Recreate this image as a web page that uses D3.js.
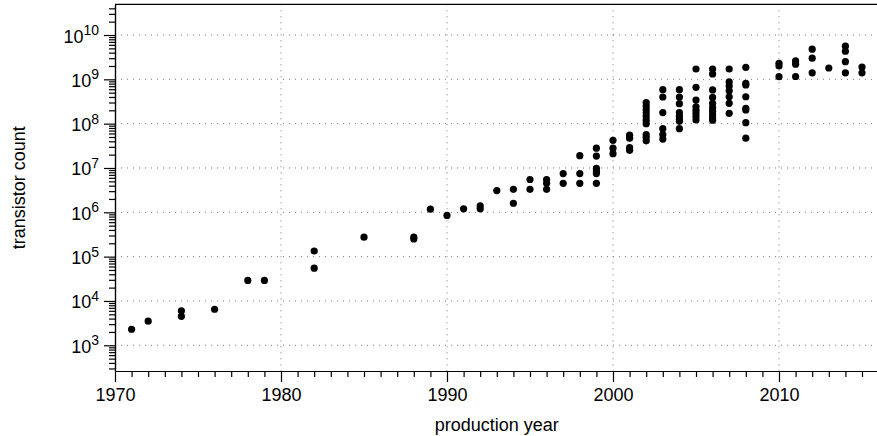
<!DOCTYPE html>
<html>
<head>
<meta charset="utf-8">
<script src="https://cdn.jsdelivr.net/npm/d3@7"></script>
<style>
  html, body { margin: 0; padding: 0; background: #fff; }
  svg { display: block; font-family: "Liberation Sans", Arial, Helvetica, sans-serif; }
</style>
</head>
<body>
<svg id="chart" width="877" height="436"></svg>
<script>
// Microprocessor transistor counts by year of introduction
const years = [
  1971, 1972, 1974, 1974, 1976, 1978, 1979, 1982, 1982, 1985, 1988, 1988,
  1989, 1990, 1991, 1992, 1992, 1993, 1994, 1994, 1995, 1995,
  1996, 1996, 1996, 1997, 1997, 1998, 1998, 1998,
  1999, 1999, 1999, 1999, 1999, 1999,
  2000, 2000, 2000, 2001, 2001, 2001, 2001,
  2002, 2002, 2002, 2002, 2002, 2002, 2002, 2002, 2002, 2002,
  2003, 2003, 2003, 2003, 2003, 2003,
  2004, 2004, 2004, 2004, 2004, 2004, 2004, 2004,
  2005, 2005, 2005, 2005, 2005, 2005, 2005, 2005,
  2006, 2006, 2006, 2006, 2006, 2006, 2006, 2006, 2006, 2006,
  2007, 2007, 2007, 2007, 2007, 2007, 2007,
  2008, 2008, 2008, 2008, 2008, 2008, 2008, 2008,
  2010, 2010, 2010, 2011, 2011, 2011, 2012, 2012, 2012, 2013,
  2014, 2014, 2014, 2014, 2015, 2015
];
const transistors = [
  2300, 3500, 6000, 4500, 6500, 29000, 29000, 134000, 55000, 275000, 250000, 275000,
  1180000, 850000, 1200000, 1400000, 1200000, 3100000, 3300000, 1600000, 5500000, 3300000,
  5500000, 4500000, 3300000, 7500000, 4500000, 19000000, 7500000, 4500000,
  28000000, 18600000, 9800000, 8500000, 7500000, 4500000,
  42000000, 28000000, 21000000, 55000000, 47000000, 29000000, 25000000,
  300e6, 250e6, 210e6, 175e6, 145e6, 120e6, 100e6, 57e6, 49e6, 41e6,
  583e6, 400e6, 178e6, 77e6, 57e6, 45e6,
  583e6, 400e6, 283e6, 177e6, 147e6, 125e6, 113e6, 77e6,
  1.71e9, 660e6, 340e6, 240e6, 200e6, 170e6, 145e6, 121e6,
  1.71e9, 1.32e9, 576e6, 390e6, 288e6, 230e6, 190e6, 160e6, 135e6, 120e6,
  1.71e9, 883e6, 706e6, 553e6, 405e6, 288e6, 171e6,
  1.87e9, 810e6, 745e6, 405e6, 222e6, 204e6, 105e6, 47e6,
  2.3e9, 2.0e9, 1.15e9, 2.6e9, 2.2e9, 1.16e9, 4.8e9, 3.0e9, 1.4e9, 1.8e9,
  5.6e9, 4.3e9, 2.5e9, 1.4e9, 1.9e9, 1.4e9
];
const yearTicks = [1970, 1980, 1990, 2000, 2010];
const powerTicks = [3, 4, 5, 6, 7, 8, 9, 10];

const svg = d3.select("#chart");
const plotLeft = 115, plotTop = 4.3, plotBottom = 371, plotRight = 878.6;

const x = d3.scaleLinear().domain([1970, 2016]).range([plotLeft, plotRight]);
const y = d3.scaleLog().domain([263, 4.93e10]).range([plotBottom, plotTop]);

// dotted grid
const grid = svg.append("g")
  .attr("stroke", "#777").attr("stroke-width", 1).attr("stroke-dasharray", "1,5");
grid.selectAll("line.h").data(powerTicks).join("line").attr("class", "h")
  .attr("x1", plotLeft).attr("x2", 877)
  .attr("y1", d => y(Math.pow(10, d))).attr("y2", d => y(Math.pow(10, d)));
grid.selectAll("line.v").data(yearTicks.slice(1)).join("line").attr("class", "v")
  .attr("x1", d => x(d)).attr("x2", d => x(d))
  .attr("y1", plotTop).attr("y2", plotBottom);

// top frame line
svg.append("line").attr("x1", plotLeft).attr("x2", 877).attr("y1", plotTop).attr("y2", plotTop)
  .attr("stroke", "#000").attr("stroke-width", 1.3);

// x axis: yearly minor ticks, decade major ticks with labels
const minorYears = d3.range(1970, 2017).filter(d => d % 10 !== 0);
svg.append("g").attr("transform", `translate(0,${plotBottom})`)
  .call(d3.axisBottom(x).tickValues(minorYears).tickSize(6).tickSizeOuter(0).tickFormat(""));
const xMajor = svg.append("g").attr("transform", `translate(0,${plotBottom})`)
  .call(d3.axisBottom(x).tickValues(yearTicks).tickSize(11).tickSizeOuter(0).tickFormat(d3.format("d")));
xMajor.selectAll("text").attr("font-size", 18).attr("fill", "#000").attr("y", 17).attr("dy", "0.71em")
  .attr("font-family", "'Liberation Sans', Arial, Helvetica, sans-serif");

// y axis: minor ticks at 2..9 x 10^n, major at powers of ten
const minorVals = [];
for (let p = 2; p <= 10; p++) for (let m = 2; m <= 9; m++) {
  const v = m * Math.pow(10, p);
  if (v >= 263 && v <= 4.93e10) minorVals.push(v);
}
svg.append("g").attr("transform", `translate(${plotLeft},0)`)
  .call(d3.axisLeft(y).tickValues(minorVals).tickSize(6).tickSizeOuter(0).tickFormat(""));
svg.append("g").attr("transform", `translate(${plotLeft},0)`)
  .call(d3.axisLeft(y).tickValues(powerTicks.map(p => Math.pow(10, p))).tickSize(11).tickSizeOuter(0).tickFormat(""));

svg.selectAll(".domain, .tick line").attr("stroke", "#000").attr("stroke-width", 1.2);

// power-of-ten labels with superscript exponents
const yLab = svg.append("g").attr("fill", "#000");
powerTicks.forEach(p => {
  const t = yLab.append("text")
    .attr("x", 99).attr("y", y(Math.pow(10, p)) + 7.5)
    .attr("text-anchor", "end").attr("font-size", 18);
  t.append("tspan").text("10");
  t.append("tspan").attr("font-size", 14).attr("dy", -7.5).text(p);
});

// data points
svg.append("g").selectAll("circle").data(years).join("circle")
  .attr("cx", d => x(d))
  .attr("cy", (d, i) => y(transistors[i]))
  .attr("r", 3.6).attr("fill", "#000");

// axis titles
svg.append("text").attr("x", (plotLeft + plotRight) / 2).attr("y", 431)
  .attr("text-anchor", "middle").attr("font-size", 18).attr("fill", "#000")
  .text("production year");
svg.append("text").attr("transform", `translate(25,${(plotTop + plotBottom) / 2}) rotate(-90)`)
  .attr("text-anchor", "middle").attr("font-size", 18).attr("fill", "#000")
  .text("transistor count");
</script>
</body>
</html>
